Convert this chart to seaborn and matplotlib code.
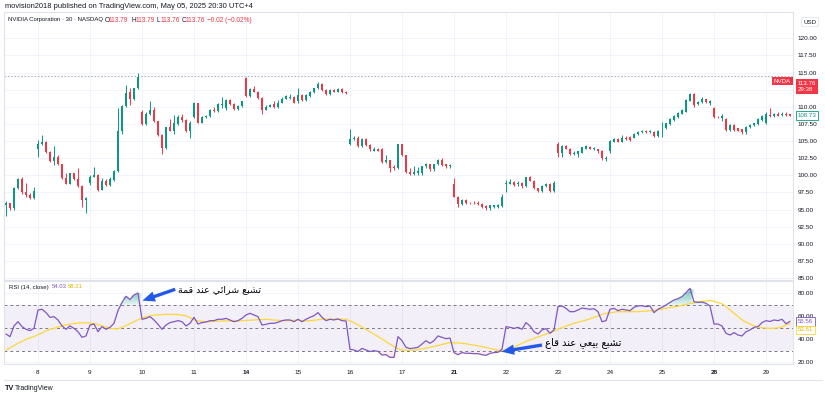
import matplotlib
matplotlib.use("Agg")
import matplotlib.pyplot as plt
import numpy as np
import pandas as pd
import seaborn as sns

# ----------------------------------------------------------------------------
# Data (30 min NVDA candles, one list per session)
# each candle: (open, high, low, close)
# ----------------------------------------------------------------------------
day_labels = ["8", "9", "10", "11", "14", "15", "16", "17",
              "21", "22", "23", "24", "25", "28", "29"]
bold_days = ["14", "21", "28"]

apr07 = [(95.7, 96.2, 94.0, 95.9), (95.9, 96.0, 94.9, 95.2), (95.2, 98.3, 95.0, 98.2),
         (98.2, 99.6, 98.0, 99.5), (99.4, 99.7, 97.3, 97.5), (97.5, 98.9, 96.9, 97.1),
         (97.2, 97.4, 96.6, 96.7), (96.7, 98.3, 96.5, 97.7)]
apr08 = [(103.9, 105.1, 102.7, 104.6), (104.6, 105.9, 104.4, 104.8), (104.8, 105.0, 103.2, 103.4),
         (103.4, 103.5, 101.9, 102.1), (102.1, 104.3, 101.5, 102.7), (102.7, 102.9, 101.5, 101.6),
         (101.6, 101.7, 99.4, 99.6), (99.6, 100.3, 98.7, 98.8), (98.8, 100.4, 98.7, 100.3),
         (100.3, 100.4, 99.3, 99.5), (99.5, 101.0, 98.3, 98.4), (98.4, 98.6, 95.4, 96.4),
         (96.4, 96.8, 94.5, 96.7)]
apr09 = [(98.9, 100.0, 98.6, 99.8), (99.8, 101.2, 99.7, 100.0), (100.0, 100.2, 97.7, 97.9),
         (97.9, 99.6, 97.8, 99.2), (99.2, 99.4, 98.4, 98.6), (98.6, 99.8, 98.4, 99.5),
         (99.3, 100.8, 99.2, 100.7), (100.7, 109.8, 100.5, 106.5), (106.5, 110.3, 106.0, 110.1),
         (110.1, 113.2, 110.0, 112.0), (112.1, 112.7, 110.3, 111.1), (111.1, 112.8, 111.0, 112.7),
         (112.7, 115.0, 112.6, 114.3)]
apr10 = [(109.3, 109.5, 107.3, 107.5), (107.5, 109.2, 107.3, 109.0), (109.0, 110.9, 108.8, 109.5),
         (109.5, 110.0, 107.8, 107.9), (107.9, 108.0, 105.7, 105.9), (105.9, 106.0, 103.1, 104.0),
         (104.0, 107.1, 103.9, 107.0), (107.0, 108.2, 106.4, 106.5), (106.5, 108.8, 106.1, 107.6),
         (107.5, 108.8, 107.3, 108.5), (108.5, 109.0, 107.8, 108.1), (108.1, 108.2, 106.3, 106.5),
         (106.5, 108.0, 105.5, 107.6)]
apr11 = [(108.5, 110.7, 108.3, 110.5), (110.5, 110.6, 107.6, 107.7), (107.7, 108.6, 107.6, 108.5),
         (108.5, 108.8, 108.3, 108.7), (108.7, 109.7, 108.5, 109.5), (109.5, 110.0, 109.3, 109.4),
         (109.4, 110.5, 109.3, 110.4), (110.3, 111.5, 109.8, 110.4), (109.8, 111.1, 109.6, 111.0),
         (111.0, 111.1, 110.2, 110.4), (110.4, 110.5, 109.5, 109.7), (109.7, 110.3, 109.6, 110.1),
         (110.1, 110.9, 110.0, 110.8)]
apr14 = [(114.2, 114.3, 111.5, 111.6), (111.6, 112.7, 111.5, 112.6), (112.6, 113.0, 112.1, 112.2),
         (112.2, 112.3, 111.2, 111.3), (111.3, 111.4, 109.0, 109.6), (109.6, 110.2, 109.5, 110.0),
         (110.0, 110.4, 109.9, 110.3), (110.4, 110.9, 109.8, 110.0), (110.0, 111.0, 109.8, 110.5),
         (110.6, 111.4, 110.5, 111.2), (111.2, 111.7, 111.1, 111.6), (111.3, 111.8, 111.1, 111.5),
         (111.5, 111.6, 110.5, 110.6)]
apr15 = [(110.8, 112.7, 110.5, 111.7), (111.7, 111.9, 110.8, 111.0), (111.0, 111.9, 110.8, 111.7),
         (111.6, 112.3, 111.5, 112.1), (112.1, 112.8, 112.0, 112.7), (112.7, 113.6, 112.6, 113.3),
         (113.3, 113.5, 112.3, 112.5), (112.5, 112.6, 111.7, 111.8), (111.8, 112.6, 111.7, 112.5),
         (112.5, 112.6, 112.1, 112.2), (112.2, 112.8, 112.1, 112.6), (112.6, 112.8, 112.0, 112.1),
         (112.2, 112.3, 111.9, 112.0)]
apr16 = [(104.5, 106.8, 104.4, 105.3), (105.3, 105.7, 105.1, 105.5), (105.5, 105.7, 104.1, 104.3),
         (104.3, 105.4, 104.1, 105.3), (105.3, 105.4, 104.3, 104.4), (104.4, 104.5, 103.6, 103.8),
         (103.6, 104.1, 103.5, 103.9), (103.9, 104.0, 103.5, 103.6), (103.9, 104.0, 101.8, 102.0),
         (102.0, 103.0, 101.8, 102.2), (102.2, 102.3, 100.5, 101.0), (101.2, 101.5, 100.8, 101.0),
         (101.0, 104.6, 100.9, 104.5)]
apr17 = [(104.5, 104.6, 102.8, 103.0), (103.0, 103.0, 100.4, 100.5), (100.5, 101.0, 100.0, 100.2),
         (100.2, 101.3, 100.0, 100.5), (100.3, 101.2, 100.0, 100.6), (100.3, 101.4, 100.1, 101.3),
         (101.3, 101.8, 101.1, 101.7), (101.6, 101.7, 100.7, 100.9), (100.9, 101.7, 100.7, 101.6),
         (101.6, 102.4, 101.5, 102.2), (102.2, 102.5, 101.4, 101.5), (101.6, 101.7, 101.1, 101.3),
         (101.3, 101.7, 101.0, 101.5)]
apr21 = [(98.7, 99.6, 96.8, 96.9), (96.9, 97.0, 95.4, 95.8), (95.8, 96.5, 95.6, 96.4),
         (96.4, 96.5, 95.8, 95.9), (96.0, 96.1, 95.8, 95.9), (96.0, 96.3, 95.8, 95.9),
         (95.9, 96.3, 95.7, 95.8), (95.8, 95.9, 95.3, 95.4), (95.5, 95.6, 95.0, 95.2),
         (95.2, 95.7, 95.0, 95.6), (95.4, 95.7, 95.3, 95.6), (95.4, 95.8, 95.3, 95.6),
         (95.5, 97.3, 95.4, 96.9)]
apr22 = [(98.7, 99.3, 97.5, 98.9), (98.8, 99.5, 98.7, 99.0), (99.0, 99.1, 98.5, 98.6),
         (98.7, 99.1, 98.5, 98.9), (98.9, 99.0, 98.2, 98.4), (98.4, 99.8, 98.3, 99.7),
         (99.7, 99.9, 99.1, 99.2), (99.2, 99.3, 98.0, 98.1), (98.1, 98.2, 97.6, 97.7),
         (97.7, 98.6, 97.6, 98.4), (98.4, 98.9, 98.3, 98.7), (98.7, 98.9, 97.6, 97.7),
         (97.7, 99.1, 97.5, 98.9)]
apr23 = [(104.5, 104.9, 102.7, 103.3), (103.3, 104.4, 102.7, 104.3), (104.3, 104.4, 103.8, 103.9),
         (103.9, 104.0, 102.9, 103.1), (103.1, 103.6, 102.9, 103.3), (103.1, 103.6, 102.7, 103.5),
         (103.3, 104.2, 103.2, 104.1), (103.9, 104.4, 103.8, 104.3), (104.2, 104.3, 103.8, 103.9),
         (103.8, 104.2, 103.7, 104.0), (103.8, 103.9, 103.3, 103.5), (103.6, 103.7, 102.3, 102.5),
         (102.4, 102.8, 102.1, 102.6)]
apr24 = [(103.5, 105.1, 103.3, 105.0), (104.9, 105.4, 104.8, 105.3), (105.3, 105.4, 104.8, 104.9),
         (104.9, 105.9, 104.8, 105.5), (105.5, 105.7, 105.1, 105.3), (105.6, 105.8, 105.0, 105.2),
         (105.5, 106.2, 105.4, 106.0), (106.0, 106.4, 105.9, 106.3), (106.3, 106.6, 106.2, 106.5),
         (106.5, 106.6, 106.2, 106.3), (106.3, 106.6, 106.2, 106.5), (106.3, 106.4, 105.6, 105.7),
         (105.7, 106.6, 105.6, 106.5)]
apr25 = [(106.85, 107.8, 105.6, 106.95), (106.9, 107.7, 106.8, 107.6), (107.5, 108.3, 107.4, 108.2),
         (108.1, 108.8, 108.0, 108.7), (108.5, 109.2, 108.4, 109.1), (108.95, 109.7, 108.9, 109.5),
         (109.3, 111.1, 109.2, 111.0), (110.9, 112.0, 110.8, 111.9), (111.9, 111.95, 110.0, 110.3),
         (110.4, 110.9, 110.3, 110.75), (110.75, 111.4, 110.6, 111.1), (111.1, 111.2, 110.6, 110.75),
         (110.6, 111.0, 110.2, 110.9)]
apr28 = [(109.8, 109.9, 108.3, 108.5), (108.55, 108.6, 108.3, 108.45), (108.4, 108.9, 108.0, 108.65),
         (108.2, 108.3, 106.5, 106.6), (106.6, 107.5, 106.5, 107.3), (107.3, 107.5, 106.5, 106.6),
         (106.9, 106.9, 106.4, 106.5), (106.7, 106.8, 106.1, 106.3), (106.3, 107.2, 106.1, 107.1),
         (107.0, 107.5, 106.9, 107.3), (107.3, 107.7, 107.2, 107.6), (107.5, 108.3, 107.4, 108.2),
         (108.1, 108.8, 108.0, 108.7)]
apr29 = [(107.6, 109.3, 107.5, 109.0), (108.8, 109.8, 108.5, 108.6), (108.7, 109.1, 108.5, 109.0),
         (108.9, 109.3, 108.6, 108.7), (108.8, 109.2, 108.6, 109.0), (109.0, 109.3, 108.7, 108.8),
         (108.95, 109.0, 108.6, 108.73)]

# RSI(14) and its moving average, one value per candle
rsi07 = [44.6, 42.3, 51.6, 55.3, 51.0, 48.7, 47.5, 49.5]
rsi08 = [65.5, 66.1, 63.2, 59.1, 59.7, 56.8, 51.6, 48.7, 51.6, 49.5, 46.6, 41.7, 42.9]
rsi09 = [52.4, 53.3, 46.6, 51.0, 48.7, 50.4, 53.9, 65.0, 72.0, 77.4, 74.5, 78.5, 80.3]
rsi10 = [57.4, 58.2, 59.7, 56.8, 53.0, 48.7, 52.4, 54.5, 55.3, 56.2, 55.3, 51.6, 53.9]
rsi11 = [59.1, 53.3, 54.5, 55.0, 56.2, 56.2, 57.4, 57.4, 58.2, 56.8, 55.3, 56.2, 58.2]
rsi14 = [61.1, 62.6, 61.1, 59.7, 52.4, 53.0, 53.9, 53.9, 54.8, 56.2, 56.8, 56.8, 55.3]
rsi15 = [57.4, 55.3, 57.4, 59.1, 60.5, 63.2, 59.1, 56.2, 57.4, 56.8, 57.7, 56.2, 55.9]
rsi16 = [31.3, 30.7, 29.3, 32.1, 30.7, 29.3, 30.1, 29.5, 26.3, 26.6, 24.3, 24.3, 42.3]
rsi17 = [38.8, 33.0, 31.9, 32.4, 33.0, 35.9, 38.8, 36.5, 38.8, 42.9, 41.7, 40.5, 41.1]
rsi21 = [28.4, 26.6, 28.4, 27.8, 27.8, 27.5, 27.5, 26.6, 26.0, 27.8, 28.4, 28.7, 31.3]
rsi22 = [51.0, 50.4, 49.5, 50.4, 48.7, 54.5, 51.6, 46.6, 44.6, 48.1, 49.3, 45.2, 48.1]
rsi23 = [68.4, 69.0, 66.9, 64.0, 64.0, 65.5, 67.2, 66.6, 66.1, 66.6, 64.0, 55.3, 56.2]
rsi24 = [66.1, 66.9, 64.9, 66.1, 65.5, 64.9, 67.8, 69.0, 69.2, 68.4, 69.0, 63.2, 66.1]
rsi25 = [67.8, 69.8, 72.1, 74.2, 75.3, 77.1, 80.5, 84.3, 72.7, 72.1, 72.4, 71.3, 69.0]
rsi28 = [53.3, 53.3, 51.6, 45.2, 43.7, 45.8, 43.7, 42.9, 46.6, 48.1, 50.4, 51.0, 54.5]
rsi29 = [56.2, 55.5, 56.8, 56.2, 57.4, 53.5, 55.6]

ma07 = [30.7, 32.5, 34.5, 36.5, 38.3, 40.0, 41.3, 42.3]
ma08 = [44.0, 45.7, 47.3, 48.6, 49.6, 50.6, 51.6, 52.6, 53.3, 53.8, 54.1, 54.3, 54.5]
ma09 = [54.2, 53.6, 52.7, 51.8, 50.6, 49.6, 49.0, 49.2, 50.3, 51.9, 53.6, 55.3, 57.0]
ma10 = [58.5, 59.6, 60.4, 61.0, 61.3, 61.5, 61.7, 61.7, 61.7, 61.5, 61.1, 60.3, 59.0]
ma11 = [57.0, 56.0, 55.5, 55.3, 55.4, 55.6, 55.8, 55.9, 56.0, 56.0, 55.9, 56.0, 56.2]
ma14 = [56.4, 56.6, 56.8, 57.0, 57.2, 57.4, 57.1, 56.7, 56.5, 56.3, 56.2, 56.3, 56.5]
ma15 = [56.6, 56.3, 56.0, 56.2, 56.5, 57.0, 57.4, 57.5, 57.6, 57.6, 57.5, 57.4, 57.4]
ma16 = [56.0, 54.5, 52.6, 50.5, 48.5, 46.6, 44.4, 42.3, 40.2, 38.0, 35.8, 33.6, 31.5]
ma17 = [30.7, 30.5, 30.4, 30.6, 31.0, 31.6, 32.3, 33.0, 33.8, 34.6, 35.5, 36.3, 37.1]
ma21 = [37.0, 36.7, 36.5, 36.1, 35.5, 34.9, 34.3, 33.6, 32.9, 32.1, 31.3, 30.6, 30.1]
ma22 = [30.5, 31.8, 33.4, 35.0, 36.6, 38.1, 39.4, 40.6, 41.9, 43.2, 44.5, 45.8, 47.2]
ma23 = [48.8, 50.2, 51.5, 52.7, 53.8, 54.9, 55.8, 56.7, 57.8, 59.0, 60.3, 61.6, 62.6]
ma24 = [63.1, 63.6, 64.0, 64.0, 64.0, 64.0, 64.0, 64.0, 64.2, 64.5, 64.8, 65.0, 65.6]
ma25 = [66.3, 67.0, 67.6, 68.2, 68.8, 69.5, 70.3, 71.0, 71.8, 72.5, 73.0, 73.4, 73.6]
ma28 = [73.0, 72.0, 70.8, 68.5, 65.5, 62.6, 59.8, 57.0, 55.0, 53.3, 51.8, 50.6, 50.0]
ma29 = [49.7, 49.5, 49.6, 50.0, 50.8, 52.5, 53.6]

price_ticks = [85, 87.5, 90, 92.5, 95, 97.5, 100, 102.5, 105, 107.5, 110, 112.5, 115, 117.5, 120]
hidden_price_ticks = [112.5]  # covered by the last-price tag
rsi_ticks = [20, 40, 60, 80]

header_text = "movision2018 published on TradingView.com, May 05, 2025 20:30 UTC+4"
symbol_text = "NVIDIA Corporation \u00b7 30 \u00b7 NASDAQ"
ohlc_pieces = [("O", "113.79"), ("H", "113.79"), ("L", "113.76"), ("C", "113.76")]
change_text = "\u22120.02 (\u22120.02%)"
note_top = "تشبع شرائي عند قمة"
note_bottom = "تشبع بيعي عند قاع"

GREEN = "#089981"
RED = "#f23645"
PURPLE = "#7e57c2"
YELLOW = "#fdd835"
BLUE = "#2358e8"
GRID = "#f0f3fa"
BORDER = "#e0e3eb"
TEXT = "#131722"

# ----------------------------------------------------------------------------
# Arabic shaping (matplotlib has no text shaping of its own)
# ----------------------------------------------------------------------------
AR_FORMS = {
    "\u0627": ("\uFE8D", "\uFE8E"),
    "\u0628": ("\uFE8F", "\uFE90", "\uFE91", "\uFE92"),
    "\u0629": ("\uFE93", "\uFE94"),
    "\u062A": ("\uFE95", "\uFE96", "\uFE97", "\uFE98"),
    "\u062F": ("\uFEA9", "\uFEAA"),
    "\u0631": ("\uFEAD", "\uFEAE"),
    "\u0634": ("\uFEB5", "\uFEB6", "\uFEB7", "\uFEB8"),
    "\u0639": ("\uFEC9", "\uFECA", "\uFECB", "\uFECC"),
    "\u0642": ("\uFED5", "\uFED6", "\uFED7", "\uFED8"),
    "\u0645": ("\uFEE1", "\uFEE2", "\uFEE3", "\uFEE4"),
    "\u0646": ("\uFEE5", "\uFEE6", "\uFEE7", "\uFEE8"),
    "\u064A": ("\uFEF1", "\uFEF2", "\uFEF3", "\uFEF4"),
    "\u0626": ("\uFE89", "\uFE8A", "\uFE8B", "\uFE8C"),
}


def shape_arabic(text):
    """Pick joined letter forms and return the string in visual order."""
    out = []
    for i, ch in enumerate(text):
        forms = AR_FORMS.get(ch)
        if forms is None:
            out.append(ch)
            continue
        prev = text[i - 1] if i > 0 else ""
        nxt = text[i + 1] if i + 1 < len(text) else ""
        joins_prev = prev in AR_FORMS and len(AR_FORMS[prev]) == 4
        joins_next = len(forms) == 4 and nxt in AR_FORMS
        if joins_prev and joins_next:
            out.append(forms[3])
        elif joins_prev:
            out.append(forms[1])
        elif joins_next:
            out.append(forms[2])
        else:
            out.append(forms[0])
    return "".join(reversed(out))


def gradient_fill(a, x, y, level, step, color, steps, alpha0, alpha_step):
    """Fill between y and level in thin slices that get more opaque away from it."""
    for k in range(steps):
        near = level + k * step
        far = near + step
        alpha = min(alpha0 + alpha_step * k, 0.9)
        if step > 0:
            a.fill_between(x, near, np.clip(y, near, far), where=y > near,
                           interpolate=True, color=color, alpha=alpha, lw=0, zorder=2)
        else:
            a.fill_between(x, np.clip(y, far, near), near, where=y < near,
                           interpolate=True, color=color, alpha=alpha, lw=0, zorder=2)


# ----------------------------------------------------------------------------
# Frames
# ----------------------------------------------------------------------------
sessions = [apr07, apr08, apr09, apr10, apr11, apr14, apr15, apr16, apr17,
            apr21, apr22, apr23, apr24, apr25, apr28, apr29]
candles = pd.DataFrame([c for s in sessions for c in s],
                       columns=["open", "high", "low", "close"])
candles["bar"] = np.arange(len(candles))

rsi = pd.DataFrame({
    "bar": candles["bar"],
    "rsi": rsi07 + rsi08 + rsi09 + rsi10 + rsi11 + rsi14 + rsi15 + rsi16 + rsi17
    + rsi21 + rsi22 + rsi23 + rsi24 + rsi25 + rsi28 + rsi29,
    "ma": ma07 + ma08 + ma09 + ma10 + ma11 + ma14 + ma15 + ma16 + ma17
    + ma21 + ma22 + ma23 + ma24 + ma25 + ma28 + ma29,
})

day_starts = np.cumsum([0] + [len(s) for s in sessions])[1:-1]

# ----------------------------------------------------------------------------
# Figure
# ----------------------------------------------------------------------------
sns.set_style("white")
plt.rcParams["font.family"] = ["Liberation Sans", "DejaVu Sans"]

W, H = 825, 397
fig = plt.figure(figsize=(W / 100, H / 100), dpi=100)


def rect(x0, y0, x1, y1):
    return [x0 / W, 1 - y1 / H, (x1 - x0) / W, (y1 - y0) / H]


def fpos(x, y):
    return x / W, 1 - y / H


ax = fig.add_axes(rect(4, 12, 793, 280))
ax_rsi = fig.add_axes(rect(4, 281, 793, 364), sharex=ax)

for a in (ax, ax_rsi):
    for sp in a.spines.values():
        sp.set_color(BORDER)
        sp.set_linewidth(0.8)
    a.yaxis.tick_right()
    a.tick_params(axis="y", length=0, pad=3.2, labelsize=4.6, labelcolor=TEXT)
    a.set_xticks(day_starts)
    for x in day_starts:
        a.axvline(x, color=GRID, lw=0.7, zorder=0)

# --- candles ---
up = candles["close"] >= candles["open"]
colors = np.where(up, GREEN, RED)
ax.vlines(candles["bar"], candles["low"], candles["high"], colors=colors, lw=0.7, zorder=2)
body = np.maximum((candles["close"] - candles["open"]).abs(), 0.07)
ax.bar(candles["bar"], body, bottom=np.minimum(candles["open"], candles["close"]),
       width=0.74, color=colors, linewidth=0, zorder=3)

for p in price_ticks:
    ax.axhline(p, color=GRID, lw=0.7, zorder=0)
ax.axhline(114.5, color="#b2b5be", lw=0.8, ls=(0, (1.5, 1.5)), zorder=1)

ax.set_ylim(84.72, 123.84)
ax.set_xlim(-0.5, 196.75)
ax.set_yticks(price_ticks)
ax.set_yticklabels(["" if p in hidden_price_ticks else f"{p:.2f}" for p in price_ticks])
ax.tick_params(axis="x", length=0, labelbottom=False)

# price tags on the scale
tag = dict(fontsize=4.4, va="center", transform=ax.get_yaxis_transform(), zorder=6)
ax.text(0.9975, 113.76, "NVDA", ha="right", color="white",
        bbox=dict(boxstyle="square,pad=0.3", fc=RED, ec="none"), **tag)
ax.text(1.006, 112.95, "113.76\n29:38", ha="left", color="white", linespacing=1.15,
        bbox=dict(boxstyle="square,pad=0.3", fc=RED, ec="none"), clip_on=False, **tag)
ax.text(1.006, 108.73, "108.73", ha="left", color=GREEN,
        bbox=dict(boxstyle="square,pad=0.3", fc="white", ec=GREEN, lw=0.6),
        clip_on=False, **tag)

# --- RSI pane ---
ax_rsi.axhspan(30, 70, color=PURPLE, alpha=0.09, lw=0, zorder=0)
for lvl in (70, 50, 30):
    ax_rsi.axhline(lvl, color="#787b86", lw=0.7, ls=(0, (3, 3)), zorder=1)
for lvl in rsi_ticks:
    ax_rsi.axhline(lvl, color=GRID, lw=0.7, zorder=0)

xs = rsi["bar"].to_numpy(dtype=float)
r = rsi["rsi"].to_numpy(dtype=float)
gradient_fill(ax_rsi, xs, r, 70.0, 1.0, GREEN, 25, 0.12, 0.04)
gradient_fill(ax_rsi, xs, r, 30.0, -1.0, RED, 15, 0.06, 0.02)

sns.lineplot(data=rsi, x="bar", y="ma", ax=ax_rsi, color=YELLOW, lw=0.9, zorder=3)
sns.lineplot(data=rsi, x="bar", y="rsi", ax=ax_rsi, color=PURPLE, lw=0.9, zorder=4)

ax_rsi.set_xlim(-0.5, 196.75)
ax_rsi.set_ylim(18.5, 90.7)
ax_rsi.set_yticks(rsi_ticks)
ax_rsi.set_yticklabels([f"{v:.2f}" for v in rsi_ticks])
ax_rsi.set_xlabel("")
ax_rsi.set_ylabel("")
ax.set_ylabel("")
ax_rsi.set_xticks(day_starts)
ax_rsi.set_xticklabels(day_labels)
ax_rsi.tick_params(axis="x", length=0, pad=4.5, labelsize=4.6, labelcolor=TEXT)
for lab in ax_rsi.get_xticklabels():
    if lab.get_text() in bold_days:
        lab.set_fontweight("bold")

rtag = dict(fontsize=4.4, va="center", ha="left", clip_on=False, zorder=6,
            transform=ax_rsi.get_yaxis_transform())
ax_rsi.text(1.006, 55.56, "55.56", color=PURPLE,
            bbox=dict(boxstyle="square,pad=0.3", fc="white", ec=PURPLE, lw=0.6), **rtag)
ax_rsi.text(1.006, 48.2, "53.61", color="#e2b800",
            bbox=dict(boxstyle="square,pad=0.3", fc="white", ec=YELLOW, lw=0.6), **rtag)

# annotations
arrow = dict(arrowstyle="simple,head_length=0.9,head_width=0.75,tail_width=0.24",
             color=BLUE, lw=0, shrinkA=0, shrinkB=0)
ax_rsi.annotate("", xy=(34.1, 73.6), xytext=(42.3, 83.5), arrowprops=arrow,
                annotation_clip=False, zorder=7)
ax_rsi.text(43.0, 83.3, shape_arabic(note_top), fontsize=6.8, family=["DejaVu Sans"],
            color="black", ha="left", va="center", zorder=7)
ax_rsi.annotate("", xy=(123.9, 29.2), xytext=(134.0, 35.0), arrowprops=arrow,
                annotation_clip=False, zorder=7)
ax_rsi.text(134.8, 37.0, shape_arabic(note_bottom), fontsize=7.2, family=["DejaVu Sans"],
            color="black", ha="left", va="center", zorder=7)

# --- header, legends, footer ---
fig.text(*fpos(5, 7), header_text, fontsize=5.45, color=TEXT, va="center")
fig.text(*fpos(8, 20), symbol_text, fontsize=4.3, color=TEXT, va="center")
for (k, v), x in zip(ohlc_pieces, [105, 131.5, 156.5, 181.5]):
    fig.text(*fpos(x, 20), k, fontsize=4.7, color=TEXT, va="center")
    fig.text(*fpos(x + 4.0, 20), v, fontsize=4.7, color=RED, va="center")
fig.text(*fpos(207, 20), change_text, fontsize=4.7, color=RED, va="center")

fig.text(*fpos(9, 287), "RSI (14, close)", fontsize=4.3, color=TEXT, va="center")
fig.text(*fpos(52, 287), "54.03", fontsize=4.3, color=PURPLE, va="center")
fig.text(*fpos(68, 287), "58.21", fontsize=4.3, color="#e2b800", va="center")

fig.text(*fpos(810, 22), "USD", fontsize=4.4, color=TEXT, ha="center", va="center",
         bbox=dict(boxstyle="round,pad=0.35,rounding_size=0.3", fc="white", ec=BORDER, lw=0.6))

fig.add_artist(plt.Line2D([4 / W, 822 / W], [1 - 380 / H] * 2, color=BORDER, lw=0.8))
fig.text(*fpos(5, 388), "TV", fontsize=5.2, fontweight="bold", color=TEXT, va="center")
fig.text(*fpos(15, 388), "TradingView", fontsize=5.0, color=TEXT, va="center")

fig.savefig("out.png", dpi=100)
